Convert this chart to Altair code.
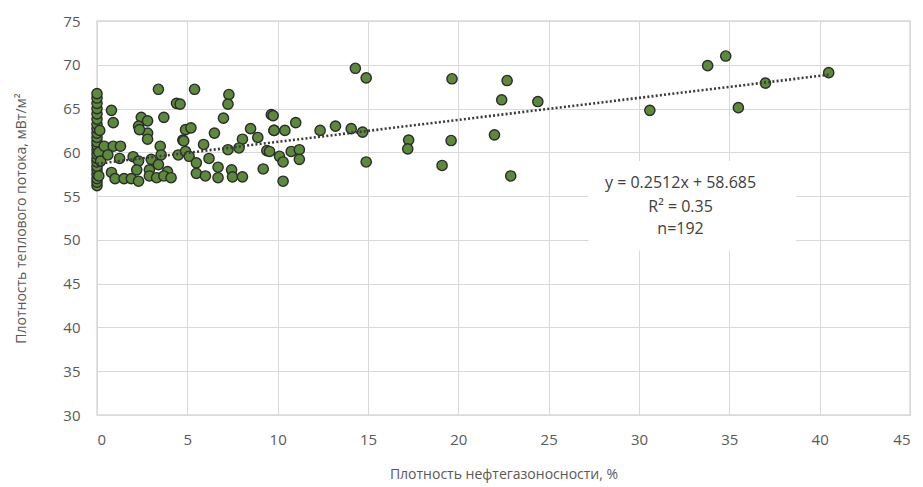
import altair as alt
import pandas as pd

# Scatter points: oil-gas bearing density (%) vs heat flow density (mW/m2)
x_vals = [
    # column at x = 0
    0, 0, 0, 0, 0, 0, 0, 0, 0, 0, 0, 0, 0, 0, 0, 0, 0, 0, 0, 0, 0, 0,
    0.1, 0.1, 0.15, 0.2,
    # 0 - 5
    3.4, 4.4, 0.8, 2.45, 2.8, 3.7, 0.9, 2.3, 2.8, 2.35, 4.9, 2.8, 4.75,
    0.4, 0.9, 1.3, 3.5, 0.6, 1.25, 2.0, 3.55, 4.5, 2.3, 3.0, 3.4, 0.8,
    2.2, 2.9, 3.9, 1.0, 1.5, 1.9, 2.3, 2.9, 3.3, 3.7, 4.1,
    # 5 - 10
    5.4, 7.3, 7.25, 4.6, 7.0, 9.65, 5.2, 6.5, 8.5, 9.8, 4.8, 8.05, 8.9,
    5.9, 7.25, 7.86, 9.4, 4.9, 5.1, 6.2, 5.5, 6.7, 5.5, 7.45, 9.2, 6.0,
    6.7, 7.5, 8.05,
    # 10 - 15
    9.75, 11.0, 9.8, 10.4, 12.35, 13.2, 14.07, 14.7, 9.55, 10.1, 10.75,
    11.2, 10.3, 11.2, 10.3, 14.9, 14.3, 14.9,
    # 15 - 25
    19.65, 22.7, 22.4, 24.4, 22.0, 19.6, 17.25, 17.2, 19.1, 22.9,
    # 30 - 41
    30.6, 33.8, 34.8, 35.5, 37.0, 40.5,
]
y_vals = [
    56.2, 56.6, 57.0, 57.5, 58.0, 58.4, 58.9, 59.3, 59.8, 60.3, 60.8,
    61.2, 61.7, 62.2, 62.7, 63.2, 63.8, 64.4, 65.0, 65.6, 66.2, 66.7,
    57.3, 60.0, 62.5, 59.0,
    67.2, 65.6, 64.8, 64.0, 63.6, 64.0, 63.4, 63.0, 62.2, 62.6, 62.6,
    61.5, 61.4, 60.7, 60.7, 60.7, 60.7, 59.7, 59.3, 59.5, 59.7, 59.7,
    59.0, 59.2, 58.6, 57.7, 58.0, 58.0, 57.8, 57.0, 57.0, 57.0, 56.7,
    57.3, 57.1, 57.3, 57.1,
    67.2, 66.6, 65.5, 65.5, 63.9, 64.3, 62.8, 62.2, 62.7, 62.5, 61.3,
    61.5, 61.7, 60.9, 60.3, 60.5, 60.2, 60.1, 59.55, 59.3, 58.8, 58.3,
    57.6, 58.0, 58.1, 57.3, 57.1, 57.2, 57.2,
    64.2, 63.4, 62.5, 62.5, 62.5, 63.0, 62.7, 62.3, 60.1, 59.55, 60.1,
    60.3, 58.9, 59.2, 56.7, 58.9, 69.6, 68.5,
    68.4, 68.2, 66.0, 65.8, 62.0, 61.35, 61.4, 60.4, 58.5, 57.3,
    64.8, 69.9, 71.0, 65.1, 67.9, 69.1,
]

# Linear trend from the printed equation
slope = 0.2512
intercept = 58.685
trend_x = [0, 40.5]
trend_y = [intercept + slope * v for v in trend_x]

eq_lines = ["y = 0.2512x + 58.685", "R\u00b2 = 0.35", "n=192"]
eq_x = [32.3, 32.3, 32.3]
eq_y = [56.5, 53.8, 51.2]

box_x = [27.2]
box_x2 = [38.7]
box_y = [48.8]
box_y2 = [59.0]

x_ticks = list(range(0, 50, 5))
y_ticks = list(range(30, 80, 5))

FONT = "Open Sans"
GRID = "#d9d9d9"
TXT = "#595959"

pts = pd.DataFrame({"x": x_vals, "y": y_vals})
trend = pd.DataFrame({"x": trend_x, "y": trend_y})
eq = pd.DataFrame({"t": eq_lines, "x": eq_x, "y": eq_y})
box = pd.DataFrame({"x": box_x, "x2": box_x2, "y": box_y, "y2": box_y2})

xscale = alt.Scale(domain=[0, 45], nice=False, zero=False)
yscale = alt.Scale(domain=[30, 75], nice=False, zero=False)

xaxis = alt.Axis(
    title="Плотность нефтегазоносности, %",
    values=x_ticks, grid=True, gridColor=GRID, ticks=False, domain=False,
    labelFont=FONT, labelFontSize=15, labelColor=TXT, labelPadding=17,
    titleFont=FONT, titleFontSize=14, titleColor=TXT, titleFontWeight="normal",
    titlePadding=20,
)
yaxis = alt.Axis(
    title="Плотность теплового потока, мВт/м\u00b2",
    values=y_ticks, grid=True, gridColor=GRID, ticks=False, domain=False,
    labelFont=FONT, labelFontSize=15, labelColor=TXT, labelPadding=17,
    titleFont=FONT, titleFontSize=14, titleColor=TXT, titleFontWeight="normal",
    titlePadding=34,
)

points = alt.Chart(pts).mark_point(
    filled=True, shape="circle", size=105, fill="#5a8a3a", fillOpacity=1,
    stroke="#2b2b2b", strokeWidth=1.4,
).encode(
    x=alt.X("x:Q", scale=xscale, axis=xaxis),
    y=alt.Y("y:Q", scale=yscale, axis=yaxis),
)

trend_line = alt.Chart(trend).mark_line(
    color="#3a3a3a", strokeWidth=2.6, strokeDash=[2, 2.2],
).encode(x=alt.X("x:Q", scale=xscale), y=alt.Y("y:Q", scale=yscale))

bg = alt.Chart(box).mark_rect(fill="white", stroke=None).encode(
    x=alt.X("x:Q", scale=xscale), x2="x2",
    y=alt.Y("y:Q", scale=yscale), y2="y2",
)

eq_text = alt.Chart(eq).mark_text(
    font=FONT, fontSize=16, color="#404040", align="center", baseline="middle",
).encode(x=alt.X("x:Q", scale=xscale), y=alt.Y("y:Q", scale=yscale), text="t:N")

chart = alt.layer(bg, points, trend_line, eq_text).properties(
    width=813, height=394,
    autosize=alt.AutoSizeParams(type="none"),
    padding={"left": 97, "top": 21, "right": 13, "bottom": 72},
    background="white",
).configure_view(stroke=GRID, strokeWidth=1.5)

chart.save("out.html", embed_options={"renderer": "svg", "actions": False})
